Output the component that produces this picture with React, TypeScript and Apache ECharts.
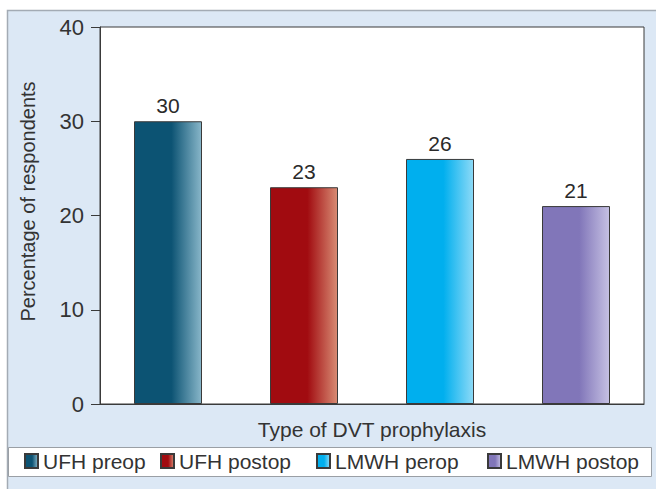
import React, { useEffect, useRef } from "react";
import * as echarts from "echarts";

const categories = ["UFH preop", "UFH postop", "LMWH perop", "LMWH postop"];
const values = [30, 23, 26, 21];
const darkColors = ["#0c5373", "#a10b10", "#00afee", "#8176b9"];
const lightColors = ["#88b6c9", "#d88c74", "#8ddaf7", "#c6c1e3"];
const yTitle = "Percentage of respondents";
const xTitle = "Type of DVT prophylaxis";
const legendLefts = [24, 160, 316, 487];

const FONT = "'Liberation Sans', Arial, sans-serif";

export default function App() {
  const ref = useRef<HTMLDivElement>(null);
  useEffect(() => {
    if (!ref.current) return;
    const chart = echarts.init(ref.current, null, { renderer: "svg" });
    const grad = (i: number) =>
      new echarts.graphic.LinearGradient(1, 0, 0, 0, [
        { offset: 0, color: lightColors[i] },
        { offset: 0.45, color: darkColors[i] },
        { offset: 1, color: darkColors[i] },
      ]);
    chart.setOption({
      animation: false,
      backgroundColor: "#ffffff",
      textStyle: { fontFamily: FONT },
      graphic: [
        {
          type: "rect",
          z: -10,
          silent: true,
          shape: { x: 7.5, y: 10.5, width: 700, height: 520 },
          style: { fill: "#dce8f5", stroke: "#a3abb4", lineWidth: 1.5 },
        },
        {
          type: "rect",
          z: -5,
          silent: true,
          shape: { x: 8.5, y: 447.5, width: 643, height: 29 },
          style: { fill: "#ffffff", stroke: "#9a9fa5", lineWidth: 1 },
        },
      ],
      grid: {
        left: 100,
        top: 27,
        right: 12,
        bottom: 85,
        show: true,
        backgroundColor: "#ffffff",
        borderColor: "#3a3a3a",
        borderWidth: 1,
      },
      legend: categories.map((c, i) => ({
        data: [c],
        left: legendLefts[i],
        top: 450,
        padding: 0,
        icon: "rect",
        itemWidth: 13,
        itemHeight: 14,
        itemGap: 0,
        selectedMode: false,
        textStyle: { fontSize: 21, color: "#333", fontFamily: FONT, lineHeight: 22 },
      })),
      xAxis: {
        type: "category",
        data: categories,
        axisLabel: { show: false },
        axisTick: { show: false },
        axisLine: { show: true, lineStyle: { color: "#3a3a3a", width: 1 } },
        name: xTitle,
        nameLocation: "middle",
        nameGap: 15,
        nameTextStyle: { fontSize: 21, color: "#333", fontFamily: FONT },
      },
      yAxis: {
        type: "value",
        min: 0,
        max: 40,
        interval: 10,
        splitLine: { show: false },
        axisLine: { show: true, lineStyle: { color: "#3a3a3a", width: 1 } },
        axisTick: { show: true, length: 9, inside: false, lineStyle: { color: "#3a3a3a" } },
        axisLabel: { fontSize: 22, color: "#333", margin: 16, fontFamily: FONT },
        name: yTitle,
        nameLocation: "middle",
        nameGap: 62,
        nameRotate: 90,
        nameTextStyle: { fontSize: 20, color: "#333", fontFamily: FONT, padding: [0, 0, 0, 28] },
      },
      series: categories.map((c, i) => ({
        name: c,
        type: "bar",
        stack: "total",
        barWidth: 68,
        data: categories.map((_, j) => (j === i ? values[i] : "-")),
        itemStyle: { color: grad(i), borderColor: "#3a3a3a", borderWidth: 1 },
        label: {
          show: true,
          position: "top",
          distance: 5,
          fontSize: 21,
          color: "#2a2a2a",
          fontFamily: FONT,
        },
      })),
    });
    return () => chart.dispose();
  }, []);
  return (
    <div
      ref={ref}
      style={{ position: "fixed", left: 0, top: 0, width: 656, height: 489 }}
    />
  );
}
